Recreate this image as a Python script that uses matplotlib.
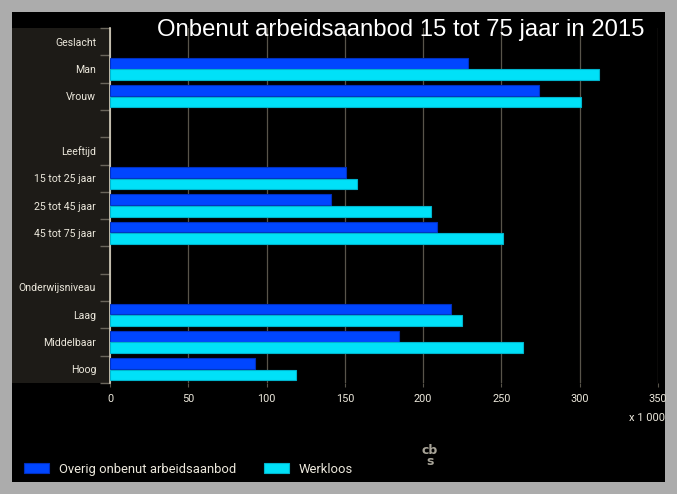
import numpy as np
import matplotlib
matplotlib.use("Agg")
import matplotlib.pyplot as plt
from matplotlib.patches import Rectangle

# categories, top to bottom (empty strings are spacer rows)
categories = ["Geslacht", "Man", "Vrouw", "", "Leeftijd", "15 tot 25 jaar",
              "25 tot 45 jaar", "45 tot 75 jaar", "", "Onderwijsniveau",
              "Laag", "Middelbaar", "Hoog"]
# values in x 1 000 (nan = no bar)
overig = [np.nan, 228.5, 273.9, np.nan, np.nan, 150.7, 141.3, 208.6,
          np.nan, np.nan, 217.5, 184.5, 92.4]
werkloos = [np.nan, 312.2, 300.8, np.nan, np.nan, 157.7, 204.8, 250.7,
            np.nan, np.nan, 224.5, 263.7, 118.6]
xticks = [0, 50, 100, 150, 200, 250, 300, 350]

title = "Onbenut arbeidsaanbod 15 tot 75 jaar in 2015"
blue = "#0046ff"
cyan = "#00e1f8"
txtcol = "#ece8dc"
gridcol = "#58544a"

W, H = 677, 494
fig = plt.figure(figsize=(W / 100, H / 100), dpi=100)
fig.patch.set_facecolor("#acacac")

def fx(px):
    return px / W

def fy(py):
    return 1 - py / H

# black inner panel
fig.patches.append(Rectangle((fx(12), fy(482)), fx(653), 470 / H,
                             transform=fig.transFigure, facecolor="black",
                             edgecolor="none", zorder=-2))
# dark label panel on the left
fig.patches.append(Rectangle((fx(12), fy(383)), fx(98), 355 / H,
                             transform=fig.transFigure, facecolor="#1d1b17",
                             edgecolor="none", zorder=-1))

ax = fig.add_axes([fx(110), fy(383), fx(548), 355 / H])
ax.set_facecolor("none")
ax.set_zorder(2)

y = np.arange(len(categories))
h = 0.39
ax.barh(y - 0.21, overig, height=h, color=blue, edgecolor="#0030c0",
        linewidth=0.8, zorder=3, label="Overig onbenut arbeidsaanbod")
ax.barh(y + 0.21, werkloos, height=h, color=cyan, edgecolor="#00b4cc",
        linewidth=0.8, zorder=3, label="Werkloos")

ax.set_xlim(0, 350)
ax.set_ylim(len(categories) - 0.5, -0.5)
ax.set_xticks(xticks)
ax.set_xticklabels([str(t) for t in xticks], fontsize=7.8, color=txtcol,
                   family="Roboto")
ax.tick_params(axis="x", length=3, color=gridcol, pad=5)
ax.grid(axis="x", color=gridcol, linewidth=0.9, zorder=1)

ax.set_yticks(y)
ax.set_yticklabels(categories, fontsize=7.6, color=txtcol, family="Roboto")
ax.set_yticks(np.arange(len(categories) + 1) - 0.5, minor=True)
ax.tick_params(axis="y", which="major", length=0, pad=10)
ax.tick_params(axis="y", which="minor", length=7, color="#6a665c", width=1)

for s in ["top", "right", "bottom"]:
    ax.spines[s].set_visible(False)
ax.spines["left"].set_color("#d8d2c0")
ax.spines["left"].set_linewidth(1.2)

fig.text(fx(401), fy(30), title, fontsize=17.2, color="white",
         family="Liberation Sans", ha="center", va="center", zorder=5)
fig.text(fx(665), fy(418), "x 1 000", fontsize=8, color=txtcol,
         family="Roboto", ha="right", va="center")

leg = fig.legend(loc="center left", bbox_to_anchor=(fx(12), fy(469)), ncol=2,
                 frameon=False, handlelength=1.95, handleheight=0.8,
                 columnspacing=2.1, handletextpad=0.75,
                 prop={"family": "Roboto", "size": 9.4})
for t in leg.get_texts():
    t.set_color(txtcol)

# small cbs mark
fig.text(fx(430), fy(456), "cb\ns", fontsize=9, color="#a8a498",
         family="DejaVu Sans", fontweight="bold", ha="center",
         va="center", linespacing=0.85)

fig.savefig("out.png", dpi=100, facecolor=fig.get_facecolor())
